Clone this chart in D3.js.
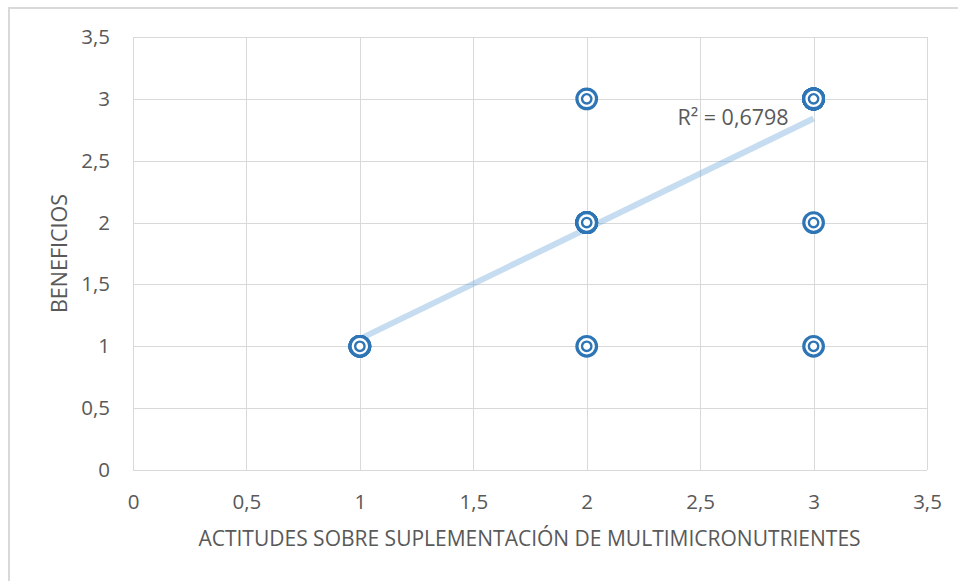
<!DOCTYPE html>
<html>
<head>
<meta charset="utf-8">
<script src="https://cdn.jsdelivr.net/npm/d3@7"></script>
<style>
  html, body { margin: 0; padding: 0; background: #ffffff; }
  svg { display: block; }
  text { font-family: "Open Sans", "Noto Sans", sans-serif; fill: #595959; }
</style>
</head>
<body>
<svg id="chart" width="958" height="581"></svg>
<script>
// Observed score pairs and how many respondents gave each pair
const xValues = [1, 2, 2, 2, 3, 3, 3];
const yValues = [1, 1, 2, 3, 1, 2, 3];
const counts  = [5, 1, 10, 1, 1, 1, 15];

const xTicks = [0, 0.5, 1, 1.5, 2, 2.5, 3, 3.5];
const yTicks = [0, 0.5, 1, 1.5, 2, 2.5, 3, 3.5];

const xTitle = "ACTITUDES SOBRE SUPLEMENTACIÓN DE MULTIMICRONUTRIENTES";
const yTitle = "BENEFICIOS";
const rSquared = 0.6798;

const W = 958, H = 581;
const plot = { left: 133, top: 37, right: 927, bottom: 470 };

const svg = d3.select("#chart");
const fmt = d => String(d).replace(".", ",");

const x = d3.scaleLinear().domain([0, 3.5]).range([plot.left, plot.right]);
const y = d3.scaleLinear().domain([0, 3.5]).range([plot.bottom, plot.top]);

// chart area outline
svg.append("rect")
  .attr("x", 9).attr("y", 8)
  .attr("width", W + 20).attr("height", H + 20)
  .attr("fill", "none").attr("stroke", "#d9d9d9").attr("stroke-width", 2);

// gridlines
svg.append("g").selectAll("line").data(xTicks).join("line")
  .attr("x1", d => Math.round(x(d)) + 0.5).attr("x2", d => Math.round(x(d)) + 0.5)
  .attr("y1", plot.top).attr("y2", plot.bottom)
  .attr("stroke", "#d9d9d9").attr("stroke-width", 1);
svg.append("g").selectAll("line").data(yTicks).join("line")
  .attr("y1", d => Math.round(y(d)) + 0.5).attr("y2", d => Math.round(y(d)) + 0.5)
  .attr("x1", plot.left).attr("x2", plot.right)
  .attr("stroke", "#d9d9d9").attr("stroke-width", 1);

// axes (labels only)
const xAxis = svg.append("g")
  .attr("transform", `translate(0,${plot.bottom})`)
  .call(d3.axisBottom(x).tickValues(xTicks).tickFormat(fmt).tickSize(0).tickPadding(24));
const yAxis = svg.append("g")
  .attr("transform", `translate(${plot.left},0)`)
  .call(d3.axisLeft(y).tickValues(yTicks).tickFormat(fmt).tickSize(0).tickPadding(23));
[xAxis, yAxis].forEach(g => {
  g.select(".domain").remove();
  g.selectAll("text").attr("fill", "#595959")
    .style("font-family", '"Open Sans", "Noto Sans", sans-serif')
    .style("font-size", "20.5px");
});

// axis titles
svg.append("text")
  .attr("x", (plot.left + plot.right) / 2 - 0.5).attr("y", 546)
  .attr("text-anchor", "middle")
  .style("font-size", "21px")
  .text(xTitle);
svg.append("text")
  .attr("transform", `translate(67,${(plot.top + plot.bottom) / 2}) rotate(-90)`)
  .attr("text-anchor", "middle")
  .style("font-size", "21.5px")
  .text(yTitle);

// expand the pairs into individual observations
const obs = [];
xValues.forEach((xv, i) => { for (let k = 0; k < counts[i]; k++) obs.push([xv, yValues[i]]); });

// least-squares linear trendline
const mx = d3.mean(obs, d => d[0]), my = d3.mean(obs, d => d[1]);
const sxy = d3.sum(obs, d => (d[0] - mx) * (d[1] - my));
const sxx = d3.sum(obs, d => (d[0] - mx) ** 2);
const slope = sxy / sxx, intercept = my - slope * mx;
const [x0, x1] = d3.extent(xValues);

svg.append("line")
  .attr("x1", x(x0)).attr("y1", y(intercept + slope * x0))
  .attr("x2", x(x1)).attr("y2", y(intercept + slope * x1))
  .attr("stroke", "#5b9bd5").attr("stroke-opacity", 0.35)
  .attr("stroke-width", 6);

// markers: one per observation, stacked where pairs repeat
const marks = svg.append("g").selectAll("g").data(obs).join("g")
  .attr("transform", d => `translate(${x(d[0])},${y(d[1])})`);
marks.append("circle").attr("r", 9.8)
  .attr("fill", "#ffffff").attr("stroke", "#2e75b6").attr("stroke-width", 3.2);
marks.append("circle").attr("r", 4.7)
  .attr("fill", "#ffffff").attr("stroke", "#2e75b6").attr("stroke-width", 2.4);

// coefficient of determination label
svg.append("text")
  .attr("x", 733).attr("y", 125)
  .attr("text-anchor", "middle")
  .style("font-size", "21.5px")
  .text("R² = " + fmt(rSquared));
</script>
</body>
</html>
